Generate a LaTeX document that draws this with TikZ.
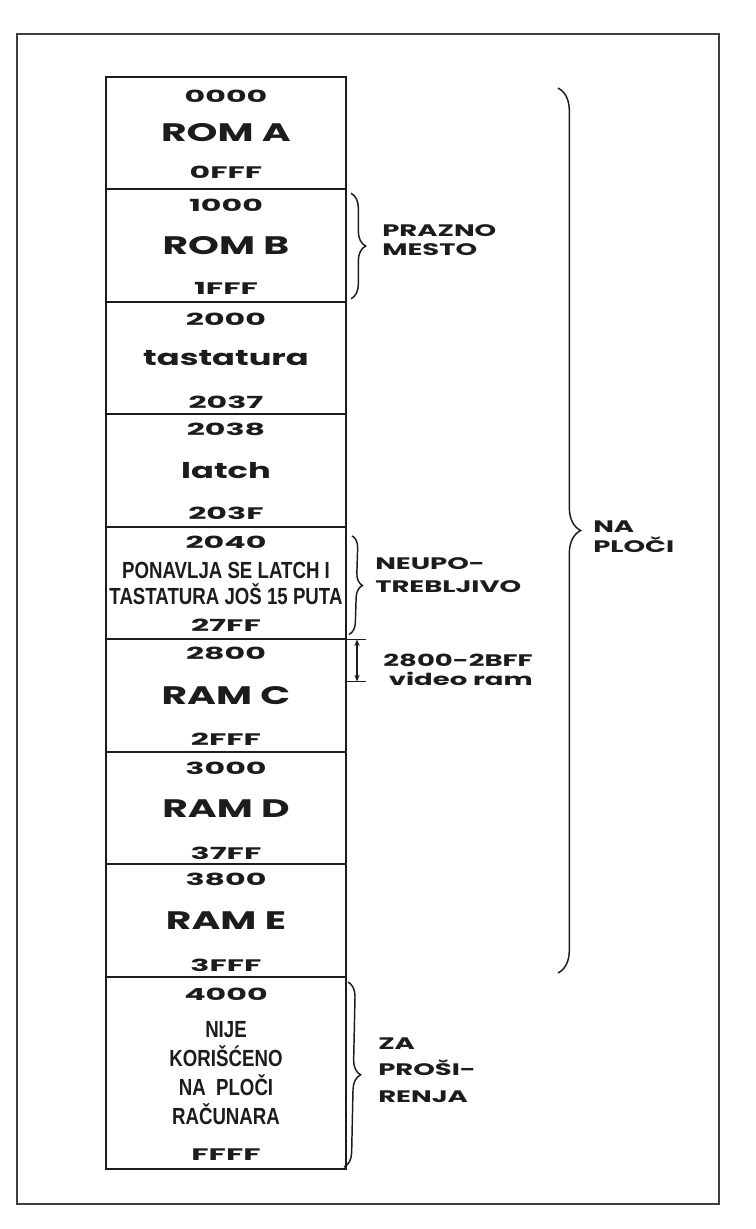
\documentclass[tikz,border=0pt]{standalone}
\usepackage{fontspec}
\setmainfont{Poppins}
\newfontfamily\namefont[FakeStretch=1.55]{Poppins}
\newfontfamily\addrfont[FakeStretch=1.9]{Poppins}
\newfontfamily\notefont[FakeStretch=1.65]{Poppins}
\newfontfamily\narrowfont[FakeStretch=0.8]{Liberation Sans}
\usetikzlibrary{arrows.meta,positioning,calc,decorations.pathreplacing}
\definecolor{ink}{HTML}{1C1C1C}

\begin{document}
\begin{tikzpicture}[x=0.75pt, y=-0.75pt,
    blk/.style={draw=ink, line width=1.5pt, minimum width=180pt,
                minimum height=84.4pt, inner sep=0pt, outer sep=0pt, text=ink,
                font=\namefont\bfseries\fontsize{19}{22}\selectfont, align=center},
    small/.style={font=\namefont\bfseries\fontsize{16.3}{19}\selectfont},
    cond/.style={font=\narrowfont\bfseries\fontsize{17.5}{19.5}\selectfont},
    addr/.style={font=\addrfont\bfseries\fontsize{12.5}{14}\selectfont, inner sep=0pt, text=ink},
    note/.style={font=\notefont\bfseries\fontsize{12.5}{14.3}\selectfont,
                 align=left, anchor=west, inner sep=0pt, text=ink},
    brc/.style={decorate, decoration={brace, amplitude=11pt}, line width=1.1pt, draw=ink},
    dim/.style={{Stealth[length=5pt,width=4pt]}-{Stealth[length=5pt,width=4pt]},
                line width=0.9pt, draw=ink}
]
  \useasboundingbox (0,0) rectangle (756,1229);
  \draw[line width=0.8pt, ink!85] (17,34) rectangle (719,1204);

  % Memory blocks stacked
  \node[blk] (roma) at (226,133) {ROM A};
  \node[blk, below=0pt of roma] (romb) {ROM B};
  \node[blk, small, below=0pt of romb] (tast) {tastatura};
  \node[blk, small, below=0pt of tast] (ltch) {latch};
  \node[blk, cond, below=0pt of ltch] (rept) {PONAVLJA SE LATCH I\\TASTATURA JOŠ 15 PUTA};
  \node[blk, below=0pt of rept] (ramc) {RAM C};
  \node[blk, below=0pt of ramc] (ramd) {RAM D};
  \node[blk, below=0pt of ramd] (rame) {RAM E};
  \node[blk, font=\narrowfont\bfseries\fontsize{17.5}{21.7}\selectfont, minimum height=144pt,
        below=0pt of rame] (free) {NIJE\\KORIŠĆENO\\NA\ \ PLOČI\\RAČUNARA};

  % Start and end addresses
  \node[addr] at ($(roma.north)+(0,20)$) {0000};
  \node[addr] at ($(roma.south)+(0,-17)$) {0FFF};
  \node[addr] at ($(romb.north)+(0,16)$) {1000};
  \node[addr] at ($(romb.south)+(0,-13)$) {1FFF};
  \node[addr] at ($(tast.north)+(0,17)$) {2000};
  \node[addr] at ($(tast.south)+(0,-12)$) {2037};
  \node[addr] at ($(ltch.north)+(0,15)$) {2038};
  \node[addr] at ($(ltch.south)+(0,-14)$) {203F};
  \node[addr] at ($(rept.north)+(0,15)$) {2040};
  \node[addr] at ($(rept.south)+(0,-14)$) {27FF};
  \node[addr] at ($(ramc.north)+(0,14)$) {2800};
  \node[addr] at ($(ramc.south)+(0,-13)$) {2FFF};
  \node[addr] at ($(ramd.north)+(0,16)$) {3000};
  \node[addr] at ($(ramd.south)+(0,-11)$) {37FF};
  \node[addr] at ($(rame.north)+(0,15)$) {3800};
  \node[addr] at ($(rame.south)+(0,-12)$) {3FFF};
  \node[addr] at ($(free.north)+(0,17)$) {4000};
  \node[addr] at ($(free.south)+(0,-14)$) {FFFF};

  % Braces on the right
  \draw[brc] ($(romb.north east)+(5,4)$) -- ($(romb.south east)+(5,-3)$);
  \node[note] (prz) at ($(romb.east)+(36,-5)$) {PRAZNO\\MESTO};

  \draw[brc, decoration={amplitude=9pt}] ($(rept.north east)+(6,9)$) -- ($(rept.south east)+(3,-5)$);
  \node[note, font=\notefont\bfseries\fontsize{12.5}{17}\selectfont] (neu)
    at ($(rept.east)+(29,-8)$) {NEUPO-\\TREBLJIVO};

  \draw[brc] ($(free.north east)+(2,5)$) -- ($(free.south east)+(-2,-2)$);
  \node[note, font=\notefont\bfseries\fontsize{12.5}{20}\selectfont] (zap)
    at ($(free.east)+(32,-3)$) {ZA\\PROŠI-\\RENJA};

  \coordinate (bt) at (558,88);
  \coordinate (bb) at (558,973);
  \draw[brc, decoration={amplitude=17pt}] (bt) -- (bb);
  \node[note, font=\notefont\bfseries\fontsize{12.5}{15}\selectfont] (nap)
    at (593,537) {NA\\PLOČI};

  % Video ram span
  \coordinate (va) at ($(ramc.north east)+(11,0)$);
  \coordinate (vb) at ($(ramc.north east)+(11,42)$);
  \draw[line width=1pt, ink] ($(va)+(-11,0)$) -- ($(va)+(9,0)$);
  \draw[line width=1pt, ink] ($(vb)+(-11,0)$) -- ($(vb)+(9,0)$);
  \draw[dim] (va) -- (vb);
  \node[note, anchor=east, align=right] (vid) at ($(ramc.north east)+(187,30)$)
    {2800-2BFF\\video ram};
\end{tikzpicture}
\end{document}
